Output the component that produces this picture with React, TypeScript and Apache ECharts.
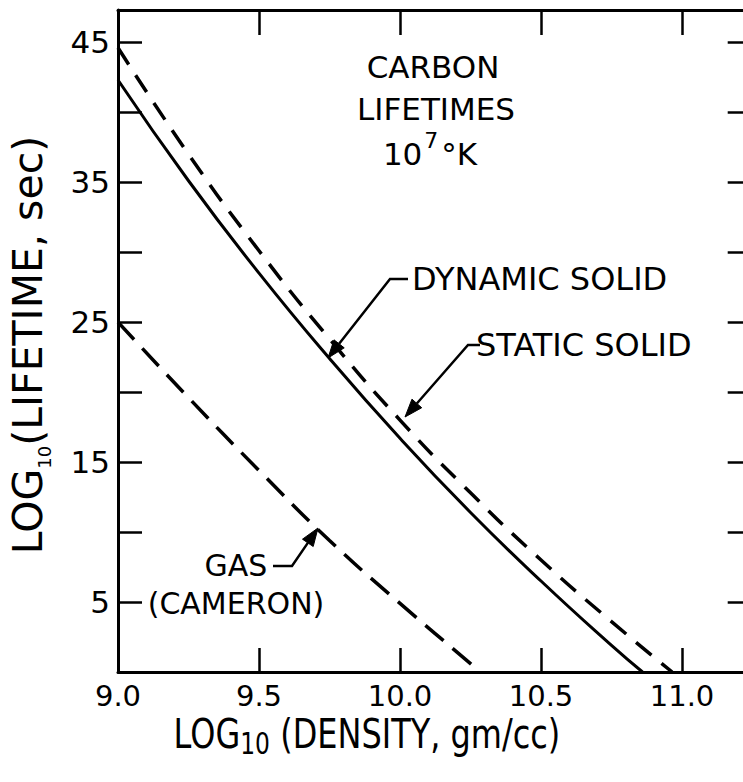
import { useEffect, useRef } from "react";
import * as echarts from "echarts";

// ---- data ----
const xTickLabels = [9.0, 9.5, 10.0, 10.5, 11.0];
const yTickLabels = [5, 15, 25, 35, 45];

const staticDensity = [9.0, 9.25, 9.5, 9.75, 10.0, 10.25, 10.5, 10.75, 10.965];
const staticLifetime = [44.6, 37.0, 30.1, 23.8, 18.0, 12.8, 8.0, 3.6, 0];

const dynamicDensity = [9.0, 9.25, 9.5, 9.75, 10.0, 10.25, 10.5, 10.75, 10.86];
const dynamicLifetime = [42.3, 35.1, 28.5, 22.4, 16.7, 11.4, 6.5, 1.9, 0];

const gasDensity = [9.0, 9.25, 9.5, 9.75, 10.0, 10.25, 10.284];
const gasLifetime = [25.0, 19.6, 14.4, 9.4, 4.9, 0.6, 0];

const FONT = '"DejaVu Sans", "Liberation Sans", sans-serif';
const INK = "#000";

function zip(xs: number[], ys: number[]) {
  return xs.map((x, i) => [x, ys[i]]);
}

function arrow(from: number[], tip: number[], len = 18, half = 6.5) {
  const dx = tip[0] - from[0];
  const dy = tip[1] - from[1];
  const d = Math.hypot(dx, dy);
  const ux = dx / d, uy = dy / d;
  const bx = tip[0] - ux * len, by = tip[1] - uy * len;
  const nx = -uy * half, ny = ux * half;
  return {
    base: [bx, by],
    head: [tip, [bx + nx, by + ny], [bx - nx, by - ny]],
  };
}

function leader(points: number[][], tip: number[]) {
  const a = arrow(points[points.length - 1], tip);
  return [
    {
      type: "polyline",
      shape: { points: [...points, a.base] },
      style: { stroke: INK, lineWidth: 2.5, fill: null },
      z: 10,
    },
    {
      type: "polygon",
      shape: { points: a.head },
      style: { fill: INK, stroke: INK, lineWidth: 1 },
      z: 10,
    },
  ];
}

function label(text: string, x: number, y: number, size: number, align = "center") {
  return {
    type: "text",
    x,
    y,
    z: 10,
    style: {
      text,
      fill: INK,
      fontSize: size,
      lineHeight: size,
      fontFamily: FONT,
      align,
      verticalAlign: "middle",
    },
  };
}

export default function App() {
  const ref = useRef<HTMLDivElement>(null);

  useEffect(() => {
    const chart = echarts.init(ref.current!, null, { renderer: "svg" });

    const axisLine = { show: true, onZero: false, lineStyle: { color: INK, width: 3 } };
    const tick = (len: number) => ({
      show: true,
      inside: true,
      length: len,
      lineStyle: { color: INK, width: 2.5 },
    });

    const xFmt = (v: number) =>
      xTickLabels.some((t) => Math.abs(t - v) < 1e-6) ? v.toFixed(1) : "";
    const yFmt = (v: number) =>
      yTickLabels.some((t) => Math.abs(t - v) < 1e-6) ? String(v) : "";

    const option: any = {
      animation: false,
      backgroundColor: "#fff",
      grid: { left: 118, top: 10, width: 631.7, height: 662 },
      xAxis: [
        {
          type: "value",
          position: "bottom",
          min: 9,
          max: 11.24,
          interval: 0.5,
          axisLine,
          axisTick: tick(24),
          splitLine: { show: false },
          axisLabel: {
            margin: 9,
            fontSize: 29,
            fontFamily: FONT,
            color: INK,
            formatter: xFmt,
          },
        },
        {
          type: "value",
          position: "top",
          min: 9,
          max: 11.24,
          interval: 0.5,
          axisLine,
          axisTick: tick(25),
          splitLine: { show: false },
          axisLabel: { show: false },
        },
      ],
      yAxis: [
        {
          type: "value",
          position: "left",
          min: 0,
          max: 47.3,
          interval: 5,
          axisLine,
          axisTick: tick(24),
          splitLine: { show: false },
          axisLabel: {
            margin: 8,
            fontSize: 31,
            fontFamily: FONT,
            color: INK,
            formatter: yFmt,
          },
        },
        {
          type: "value",
          position: "right",
          min: 0,
          max: 47.3,
          interval: 5,
          axisLine,
          axisTick: tick(22),
          splitLine: { show: false },
          axisLabel: { show: false },
        },
      ],
      series: [
        {
          name: "STATIC SOLID",
          type: "line",
          data: zip(staticDensity, staticLifetime),
          symbol: "none",
          smooth: 0.5,
          lineStyle: { color: INK, width: 3.5, type: [20, 13] },
        },
        {
          name: "DYNAMIC SOLID",
          type: "line",
          data: zip(dynamicDensity, dynamicLifetime),
          symbol: "none",
          smooth: 0.5,
          lineStyle: { color: INK, width: 3 },
        },
        {
          name: "GAS (CAMERON)",
          type: "line",
          data: zip(gasDensity, gasLifetime),
          symbol: "none",
          smooth: 0.5,
          lineStyle: { color: INK, width: 3.5, type: [24, 12] },
        },
      ],
      graphic: [
        label("CARBON", 433, 67, 31),
        label("LIFETIMES", 436, 109, 31),
        {
          type: "text",
          x: 430,
          y: 154,
          z: 10,
          style: {
            text: "{m|10}{s|7}{m|°K}",
            fill: INK,
            fontFamily: FONT,
            align: "center",
            verticalAlign: "middle",
            rich: {
              m: { fontSize: 31, lineHeight: 50, fontFamily: FONT, fill: INK },
              s: {
                fontSize: 22,
                lineHeight: 18,
                verticalAlign: "top",
                padding: [0, 3, 0, 2],
                fontFamily: FONT,
                fill: INK,
              },
            },
          },
        },
        label("DYNAMIC SOLID", 412, 279, 32, "left"),
        label("STATIC SOLID", 476, 345, 32, "left"),
        label("GAS", 236, 565, 30),
        label("(CAMERON)", 236, 603, 30),
        ...leader([[408, 279], [390, 279]], [328, 358]),
        ...leader([[480, 345], [468, 345]], [405, 417]),
        ...leader([[273, 566], [292, 566]], [318, 528]),
        {
          type: "text",
          x: 367,
          y: 734,
          scaleX: 0.78,
          z: 10,
          style: {
            text: "{m|LOG}{s|10}{m| (DENSITY, gm/cc)}",
            fill: INK,
            fontFamily: FONT,
            align: "center",
            verticalAlign: "middle",
            rich: {
              m: { fontSize: 41, lineHeight: 48, fontFamily: FONT, fill: INK },
              s: { fontSize: 30, lineHeight: 20, verticalAlign: "bottom", fontFamily: FONT, fill: INK },
            },
          },
        },
        {
          type: "text",
          x: 28,
          y: 345,
          rotation: Math.PI / 2,
          z: 10,
          style: {
            text: "{m|LOG}{s|10}{m|(LIFETIME, sec)}",
            fill: INK,
            fontFamily: FONT,
            align: "center",
            verticalAlign: "middle",
            rich: {
              m: { fontSize: 41, lineHeight: 50, fontFamily: FONT, fill: INK },
              s: { fontSize: 18, lineHeight: 29, verticalAlign: "bottom", fontFamily: FONT, fill: INK },
            },
          },
        },
      ],
    };

    chart.setOption(option);
    return () => chart.dispose();
  }, []);

  return (
    <div
      style={{
        position: "absolute",
        left: 0,
        top: 0,
        width: 743,
        height: 782,
        overflow: "hidden",
        background: "#fff",
      }}
    >
      <div ref={ref} style={{ width: 770, height: 782 }} />
    </div>
  );
}
